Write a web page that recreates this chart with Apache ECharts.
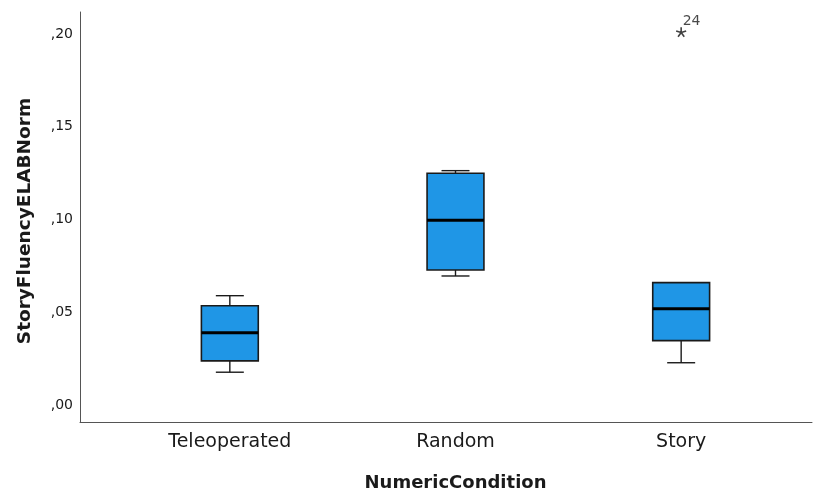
<!DOCTYPE html>
<html>
<head>
<meta charset="utf-8">
<script src="https://cdn.jsdelivr.net/npm/echarts@6/dist/echarts.min.js"></script>
<style>
  html, body { margin: 0; padding: 0; background: #fff; }
  #main { width: 820px; height: 494px; }
</style>
</head>
<body>
<div id="main"></div>
<script>
// values
var categories = ['Teleoperated', 'Random', 'Story'];
var minVals    = [0.0179, 0.0697, 0.0230];
var q1Vals     = [0.0240, 0.0729, 0.0349];
var medianVals = [0.0392, 0.0997, 0.0520];
var q3Vals     = [0.0537, 0.1250, 0.0661];
var maxVals    = [0.0591, 0.1264, 0.0661];
var yTicks     = [0, 0.05, 0.10, 0.15, 0.20];
// outliers: [category index, value, case label]
var outliers   = [[2, 0.2010, '24']];

var yMin = -0.0089, yMax = 0.2118;
var font = 'DejaVu Sans';

var boxData = categories.map(function (c, i) {
  return [i, minVals[i], q1Vals[i], medianVals[i], q3Vals[i], maxVals[i]];
});

function renderBox(params, api) {
  var x = api.value(0);
  var pMin = api.coord([x, api.value(1)]);
  var pQ1 = api.coord([x, api.value(2)]);
  var pMed = api.coord([x, api.value(3)]);
  var pQ3 = api.coord([x, api.value(4)]);
  var pMax = api.coord([x, api.value(5)]);
  var band = api.size([1, 0])[0];
  var hw = band * 0.126;
  var cw = band * 0.062;
  var cx = pMed[0];
  var line = { stroke: '#1a1a1a', lineWidth: 1.4 };
  return {
    type: 'group',
    children: [
      { type: 'line', shape: { x1: cx, y1: pQ3[1], x2: cx, y2: pMax[1] }, style: line },
      { type: 'line', shape: { x1: cx - cw, y1: pMax[1], x2: cx + cw, y2: pMax[1] }, style: line },
      { type: 'line', shape: { x1: cx, y1: pQ1[1], x2: cx, y2: pMin[1] }, style: line },
      { type: 'line', shape: { x1: cx - cw, y1: pMin[1], x2: cx + cw, y2: pMin[1] }, style: line },
      { type: 'rect', shape: { x: cx - hw, y: pQ3[1], width: hw * 2, height: pQ1[1] - pQ3[1] },
        style: { fill: '#1f96e6', stroke: '#1a1a1a', lineWidth: 1.6 } },
      { type: 'line', shape: { x1: cx - hw, y1: pMed[1], x2: cx + hw, y2: pMed[1] },
        style: { stroke: '#000', lineWidth: 3 } }
    ]
  };
}

var chart = echarts.init(document.getElementById('main'));
chart.setOption({
  animation: false,
  grid: [
    { left: 80, right: 8, top: 12, bottom: 72, outerBoundsMode: 'none' },
    { left: 117, right: 26, top: 12, bottom: 72, outerBoundsMode: 'none' }
  ],
  xAxis: [
    { gridIndex: 0, type: 'value', min: 0, max: 1,
      axisLine: { show: true, onZero: false, lineStyle: { color: '#555', width: 1 } },
      axisTick: { show: false }, axisLabel: { show: false }, splitLine: { show: false } },
    { gridIndex: 1, type: 'category', data: categories, boundaryGap: true,
      axisLine: { show: false, onZero: false }, axisTick: { show: false }, splitLine: { show: false },
      axisLabel: { color: '#1a1a1a', fontFamily: font, fontSize: 19, margin: 11 },
      name: 'NumericCondition', nameLocation: 'middle', nameGap: 52,
      nameTextStyle: { color: '#1a1a1a', fontFamily: font, fontSize: 18, fontWeight: 'bold' } }
  ],
  yAxis: [
    { gridIndex: 0, type: 'value', min: yMin, max: yMax,
      axisLine: { show: true, onZero: false, lineStyle: { color: '#555', width: 1 } },
      axisTick: { show: false }, splitLine: { show: false },
      axisLabel: { customValues: yTicks, color: '#1a1a1a', fontFamily: font, fontSize: 14, margin: 7,
        formatter: function (v) { return v.toFixed(2).replace('0.', ','); } },
      name: 'StoryFluencyELABNorm', nameLocation: 'middle', nameGap: 45,
      nameTextStyle: { color: '#1a1a1a', fontFamily: font, fontSize: 18.5, fontWeight: 'bold',
        padding: [0, 8, 0, 0] } },
    { gridIndex: 1, type: 'value', min: yMin, max: yMax, show: false }
  ],
  series: [
    { type: 'custom', xAxisIndex: 1, yAxisIndex: 1, renderItem: renderBox,
      encode: { x: 0, y: [1, 2, 3, 4, 5] }, data: boxData },
    { type: 'scatter', xAxisIndex: 1, yAxisIndex: 1,
      symbol: 'path://M0,-5L0,0M0,0L4.76,-1.55M0,0L2.94,4.05M0,0L-2.94,4.05M0,0L-4.76,-1.55',
      symbolSize: 10, symbolKeepAspect: true,
      itemStyle: { color: 'none', borderColor: '#111', borderWidth: 1.6 },
      label: { show: true, position: [9, -10], color: '#1a1a1a', fontFamily: font, fontSize: 14,
        formatter: function (p) { return p.data[2]; } },
      data: outliers }
  ]
});
</script>
</body>
</html>
